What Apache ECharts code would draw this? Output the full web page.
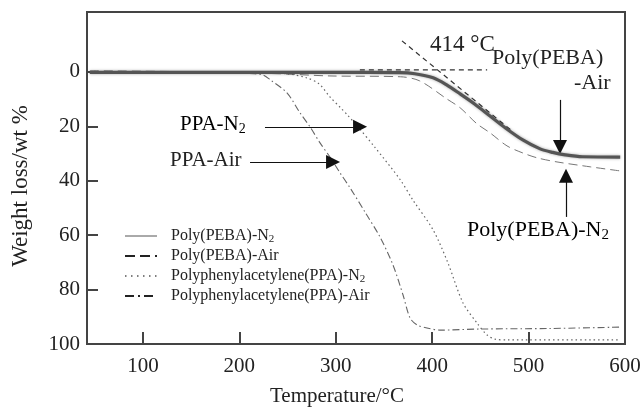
<!DOCTYPE html>
<html>
<head>
<meta charset="utf-8">
<script src="https://cdn.jsdelivr.net/npm/echarts@6/dist/echarts.min.js"></script>
<style>html,body{margin:0;padding:0;background:#fff}#c{width:641px;height:408px}</style>
</head>
<body>
<div id="c"></div>
<script>
// ---- data (Temperature °C, Weight loss %) ----
var seriesNames = ['Poly(PEBA)-N2', 'Poly(PEBA)-Air', 'Polyphenylacetylene(PPA)-N2', 'Polyphenylacetylene(PPA)-Air'];
var pebaN2 = [[45,0.2],[300,0.2],[366.6,0.3],[382,0.7],[401,2.2],[415,4.8],[429,8.1],[444,11.8],[460,16.2],[476,20.6],[494,25.0],[512,28.3],[525,29.6],[538,30.5],[556,31.2],[595,31.3]];
var pebaAir = [[45,-0.4],[159,0],[242,0.7],[294,1.5],[367,1.8],[387,3.3],[415,9.9],[429,13.2],[446.5,19.1],[460,22.4],[477.6,27.2],[494,29.8],[509,31.6],[529.5,33.1],[564,34.9],[595,36.4]];
var ppaN2 = [[45,0.4],[221,0.4],[249,0.7],[270,2.2],[283,4.5],[294,9.2],[305,13.2],[312,15.8],[323,20.2],[341,27.9],[367,39.7],[380,47.1],[401,58.1],[416,69.9],[432,84.9],[446.5,92.3],[457,96.7],[465,98.2],[478,98.5],[595,98.5]];
var ppaAir = [[45,0.4],[190,0.4],[216,0.7],[224.5,1.1],[232,2.9],[249.4,7.7],[263,15.1],[273.3,20.2],[283.7,26.1],[294,31.3],[304.4,37.1],[314.8,42.6],[330.3,51.5],[345.9,60.7],[359.4,71.0],[369.8,82.0],[377,90.4],[384.3,93.0],[394.6,94.1],[408,94.9],[450,94.5],[522,94.3],[595,93.8]];
// onset construction lines
var tangentFlat = [[325,-0.7],[457,-0.7]];
var tangentSlope = [[368.7,-11.4],[482.8,21.7]];
// annotation arrows [start, end]
var arrowPPAN2 = [[226.6,20.2],[325.2,20.2]];
var arrowPPAAir = [[211.1,33.1],[297.2,33.1]];
var arrowPEBAAir = [[532.6,10.3],[532.6,27.6]];
var arrowPEBAN2 = [[538.8,53.3],[538.8,38.2]];
// ticks
var xTicks = [100,200,300,400,500];
var xLabels = [100,200,300,400,500,600];
var yTicks = [0,20,40,60,80,100];

var FF = '"Liberation Serif","Times New Roman",serif';
var TXT = '#222';

function subRich(size){
  return {
    n:{fontFamily:FF,fontSize:size,color:TXT},
    s:{fontFamily:FF,fontSize:Math.round(size*0.68),color:TXT,padding:[Math.round(size*0.45),0,0,0]}
  };
}
function subText(name){
  var m = name.match(/^(.*N)2$/);
  return m ? '{n|'+m[1]+'}{s|2}' : '{n|'+name+'}';
}

var chart = echarts.init(document.getElementById('c'), null, {renderer:'canvas'});
var axisCol = '#444';
function arrowLine(pts){ return [{coord:pts[0]},{coord:pts[1]}]; }
var hidden = {color:'rgba(0,0,0,0)',borderColor:'rgba(0,0,0,0)',borderWidth:0};

var option = {
  animation:false,
  backgroundColor:'#fff',
  grid:{left:87,right:16,top:12,bottom:64,outerBoundsMode:'none',containLabel:false,show:true,borderColor:axisCol,borderWidth:2,backgroundColor:'transparent'},
  xAxis:{
    type:'value',min:42,max:600,
    name:'Temperature/°C',nameLocation:'middle',nameGap:42,
    nameTextStyle:{fontFamily:FF,fontSize:21,color:TXT,padding:[0,38,0,0]},
    axisLine:{show:true,onZero:false,lineStyle:{color:axisCol,width:2}},
    axisTick:{show:true,inside:true,length:12,customValues:xTicks,lineStyle:{color:axisCol,width:2}},
    axisLabel:{customValues:xLabels,fontFamily:FF,fontSize:21,color:TXT,margin:12},
    splitLine:{show:false}
  },
  yAxis:{
    type:'value',inverse:true,min:-22,max:100,
    name:'Weight loss/wt %',nameLocation:'middle',nameGap:55,nameRotate:90,
    nameTextStyle:{fontFamily:FF,fontSize:23,color:TXT,padding:[0,16,0,0]},
    axisLine:{show:true,onZero:false,lineStyle:{color:axisCol,width:2}},
    axisTick:{show:true,inside:true,length:11,customValues:yTicks,lineStyle:{color:axisCol,width:2}},
    axisLabel:{customValues:yTicks,fontFamily:FF,fontSize:21,color:TXT,margin:7},
    splitLine:{show:false}
  },
  legend:{
    orient:'vertical',left:124,top:226,padding:0,itemWidth:32,itemHeight:14,itemGap:0,
    selectedMode:false,
    itemStyle:hidden,
    data:[
      {name:seriesNames[0],itemStyle:hidden,lineStyle:{width:1,color:'#555',shadowBlur:0,type:'solid'}},
      {name:seriesNames[1],itemStyle:hidden,lineStyle:{width:2,color:'#222',type:[10,5]}},
      {name:seriesNames[2],itemStyle:hidden,lineStyle:{width:1.3,color:'#555',type:[1.5,4.5]}},
      {name:seriesNames[3],itemStyle:hidden,lineStyle:{width:2,color:'#222',type:[9,4,2,4]}}
    ],
    formatter:function(n){ return subText(n); },
    textStyle:{fontFamily:FF,fontSize:16,color:TXT,lineHeight:20,padding:[0,0,0,9],rich:subRich(16)}
  },
  series:[
    {name:seriesNames[0],type:'line',data:pebaN2,symbol:'none',smooth:0.3,z:5,
     lineStyle:{color:'#555',width:3.2,shadowColor:'rgba(0,0,0,0.35)',shadowBlur:3}},
    {name:seriesNames[1],type:'line',data:pebaAir,symbol:'none',smooth:0.3,
     lineStyle:{color:'#777',width:1,type:[9,5]}},
    {name:seriesNames[2],type:'line',data:ppaN2,symbol:'none',smooth:0.3,
     lineStyle:{color:'#666',width:1.2,type:[1.5,3]}},
    {name:seriesNames[3],type:'line',data:ppaAir,symbol:'none',smooth:0.3,
     lineStyle:{color:'#666',width:1.1,type:[7,3,1.5,3]}},
    {name:'tangent1',type:'line',data:tangentFlat,symbol:'none',silent:true,
     lineStyle:{color:'#333',width:1.2,type:[5,4]}},
    {name:'tangent2',type:'line',data:tangentSlope,symbol:'none',silent:true,
     lineStyle:{color:'#333',width:1.2,type:[5,4]}},
    {name:'arrows',type:'line',data:[],silent:true,
     markLine:{silent:true,symbol:['none','triangle'],symbolSize:14,animation:false,
       label:{show:false},lineStyle:{color:'#111',width:1.2,type:'solid'},
       emphasis:{disabled:true},
       data:[arrowLine(arrowPPAN2),arrowLine(arrowPPAAir),arrowLine(arrowPEBAAir),arrowLine(arrowPEBAN2)]}}
  ],
  graphic:[
    {type:'text',left:430,top:33,style:{text:'414 °C',font:'23px '+FF,fill:TXT}},
    {type:'text',left:492,top:47,style:{text:'Poly(PEBA)',font:'22px '+FF,fill:TXT}},
    {type:'text',left:574,top:72,style:{text:'-Air',font:'22px '+FF,fill:TXT}},
    {type:'text',left:180,top:114,style:{text:subText('PPA-N2'),rich:subRich(21)}},
    {type:'text',left:170,top:150,style:{text:'PPA-Air',font:'21px '+FF,fill:TXT}},
    {type:'text',left:467,top:219,style:{text:subText('Poly(PEBA)-N2'),rich:subRich(22)}}
  ]
};
chart.setOption(option);
</script>
</body>
</html>
